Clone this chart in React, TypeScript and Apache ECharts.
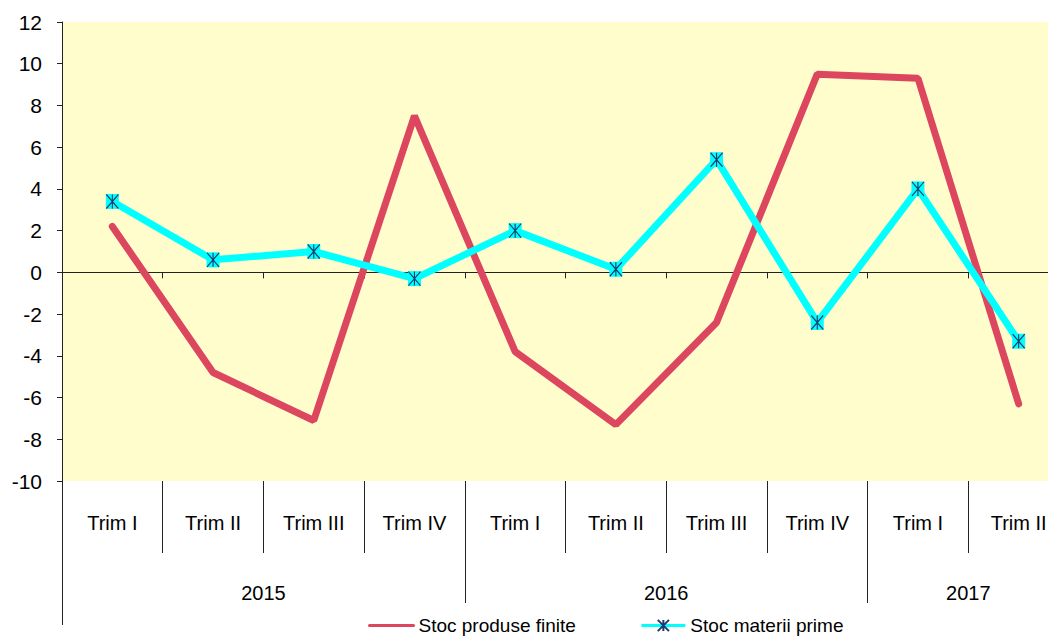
import React, { useEffect, useRef } from "react";
import * as echarts from "echarts";

const quarters = ["Trim I", "Trim II", "Trim III", "Trim IV", "Trim I", "Trim II", "Trim III", "Trim IV", "Trim I", "Trim II"];
const years = ["2015", "2016", "2017"];
const quartersPerYear = [4, 4, 2];
const stocProduseFinite = [2.2, -4.8, -7.1, 7.5, -3.8, -7.3, -2.4, 9.5, 9.3, -6.3];
const stocMateriiPrime = [3.4, 0.6, 1.0, -0.3, 2.0, 0.15, 5.4, -2.4, 4.0, -3.3];
const yMin = -10;
const yMax = 12;
const yStep = 2;

const FONT = "'Liberation Sans', Arial, sans-serif";

export default function App() {
  const ref = useRef<HTMLDivElement>(null);
  useEffect(() => {
    if (!ref.current) return;
    const chart = echarts.init(ref.current, undefined, { renderer: "svg" });

    const yearBounds: number[] = [];
    const yearCenters: number[] = [];
    let acc = 0;
    quartersPerYear.forEach((n, i) => {
      yearCenters.push(acc + n / 2);
      acc += n;
      if (i < quartersPerYear.length - 1) yearBounds.push(acc);
    });
    const total = quarters.length;
    const lineColor = "#222";
    const textStyle = { fontFamily: FONT, fontSize: 20, color: "#000" };

    chart.setOption({
      animation: false,
      textStyle: { fontFamily: FONT },
      grid: {
        left: 62,
        top: 22,
        width: 1007,
        height: 459,
        show: true,
        backgroundColor: "#FFFDCB",
        borderWidth: 0,
        containLabel: false,
        outerBoundsMode: "none",
      },
      legend: {
        data: [
          { name: "Stoc produse finite", itemStyle: { opacity: 0 }, lineStyle: { width: 3 } },
          { name: "Stoc materii prime", lineStyle: { width: 3 } },
        ],
        left: 363,
        top: 611,
        itemWidth: 44,
        itemHeight: 14,
        itemGap: 64,
        itemTextGap: 6,
        textStyle: { ...textStyle, fontSize: 19 },
      },
      xAxis: [
        {
          type: "category",
          data: quarters,
          boundaryGap: true,
          axisLine: { show: true, onZero: true, lineStyle: { color: lineColor, width: 1 } },
          axisTick: { show: true, interval: 0, length: 6, lineStyle: { color: lineColor } },
          axisLabel: { show: false },
          splitLine: { show: false },
        },
        {
          type: "category",
          data: quarters,
          position: "bottom",
          boundaryGap: true,
          axisLine: { show: false, onZero: false },
          axisTick: { show: true, interval: 0, length: 72, lineStyle: { color: lineColor } },
          axisLabel: { show: true, interval: 0, margin: 42, verticalAlign: "middle", ...textStyle },
          splitLine: { show: false },
        },
        {
          type: "value",
          min: 0,
          max: total,
          position: "bottom",
          axisLine: { show: false, onZero: false },
          axisTick: { show: true, customValues: yearBounds, length: 122, lineStyle: { color: lineColor } },
          axisLabel: {
            show: true,
            customValues: yearCenters,
            margin: 112,
            verticalAlign: "middle",
            formatter: (v: number) => {
              const i = yearCenters.findIndex((c) => Math.abs(c - v) < 1e-6);
              return i >= 0 ? years[i] : "";
            },
            ...textStyle,
          },
          splitLine: { show: false },
        },
        {
          type: "value",
          min: 0,
          max: total,
          position: "bottom",
          axisLine: { show: false, onZero: false },
          axisTick: { show: true, customValues: [0], length: 144, lineStyle: { color: lineColor } },
          axisLabel: { show: false },
          splitLine: { show: false },
        },
      ],
      yAxis: {
        type: "value",
        min: yMin,
        max: yMax,
        interval: yStep,
        axisLine: { show: true, onZero: false, lineStyle: { color: lineColor, width: 1 } },
        axisTick: { show: true, length: 5, lineStyle: { color: lineColor } },
        axisLabel: { margin: 20, ...textStyle, fontSize: 21 },
        splitLine: { show: false },
      },
      series: [
        {
          name: "Stoc produse finite",
          type: "line",
          data: stocProduseFinite,
          symbol: "none",
          itemStyle: { color: "#DC465F" },
          lineStyle: { color: "#DC465F", width: 7, cap: "round" },
          z: 2,
        },
        {
          name: "_bg",
          type: "line",
          data: stocMateriiPrime,
          symbol: "rect",
          symbolSize: [13, 15],
          showSymbol: true,
          itemStyle: { color: "#00FFFF" },
          lineStyle: { color: "#00FFFF", width: 7, cap: "round" },
          silent: true,
          z: 3,
        },
        {
          name: "Stoc materii prime",
          type: "line",
          data: stocMateriiPrime,
          symbol: "path://M0,0L12,14M12,0L0,14M6,0L6,14",
          symbolSize: [12, 14],
          showSymbol: true,
          itemStyle: { color: "#00FFFF", borderColor: "#1C3A6E", borderWidth: 1.2 },
          lineStyle: { color: "#00FFFF", width: 0 },
          z: 4,
        },
      ],
    });
    return () => chart.dispose();
  }, []);
  return <div ref={ref} style={{ position: "absolute", left: 0, top: 0, width: 1048, height: 638 }} />;
}
